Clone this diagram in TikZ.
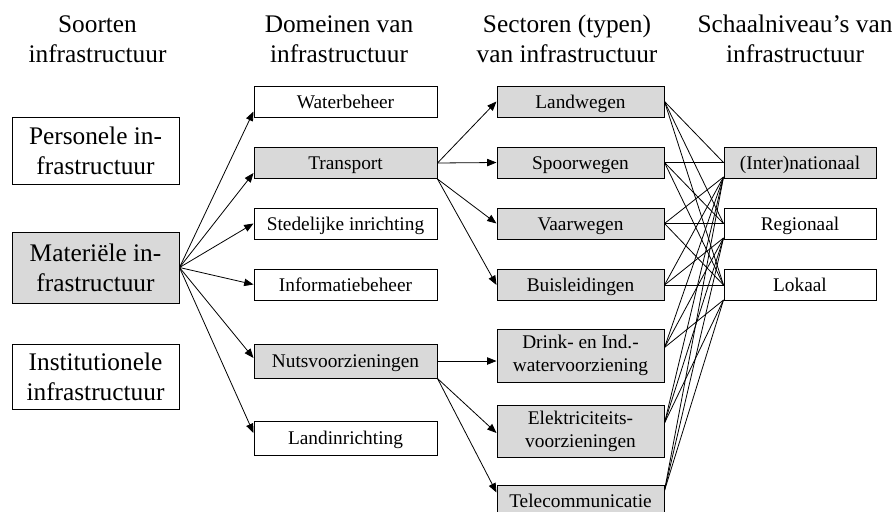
\documentclass[tikz,border=0pt]{standalone}
\usepackage{fontspec}
\setmainfont{Liberation Serif}
\usetikzlibrary{arrows.meta,calc}
\definecolor{boxgray}{RGB}{217,217,217}
\begin{document}
\begin{tikzpicture}[x=0.75pt,y=-0.75pt,
  box/.style={draw=black, line width=0.75pt, inner sep=0pt, align=center,
    font=\fontsize{14.5}{17.3}\selectfont},
  oneline/.style={text height=9.9pt, text depth=0pt},
  dombox/.style={box, minimum width=137.25pt, minimum height=23.25pt},
  secbox/.style={box, minimum width=125.25pt, minimum height=23.25pt},
  scalebox/.style={box, oneline, minimum width=114pt, minimum height=23.25pt},
  kindbox/.style={draw=black, line width=0.75pt, inner sep=0pt, align=center,
    minimum width=125.25pt, font=\fontsize{19}{22.5}\selectfont},
  hdr/.style={align=center, font=\fontsize{19}{22.7}\selectfont},
  graybox/.style={fill=boxgray},
  whitebox/.style={fill=white},
  conn/.style={line width=0.6pt},
  arr/.style={conn, -{Triangle[length=7pt,width=5.5pt]}}
]
\useasboundingbox (0,0) rectangle (896,511);

% column headings
\node[hdr] (h1) at (97.5,39) {Soorten\\infrastructuur};
\node[hdr] (h2) at (339,39)  {Domeinen van\\infrastructuur};
\node[hdr] (h3) at (567,39)  {Sectoren (typen)\\van infrastructuur};
\node[hdr] (h4) at (795,39)  {Schaalniveau’s van\\infrastructuur};

% kinds of infrastructure
\node[kindbox, whitebox, minimum height=50.25pt] (pers) at (95.5,150.8) {Personele in-\\frastructuur};
\node[kindbox, graybox,  minimum height=53.25pt] (mat)  at (95.5,267.5) {Materiële in-\\frastructuur};
\node[kindbox, whitebox, minimum height=48.75pt] (inst) at (95.5,376.5) {Institutionele\\infrastructuur};

% domains
\node[dombox, oneline, whitebox] (wb)  at (345.5,101.5) {Waterbeheer};
\node[dombox, oneline, graybox]  (tr)  at (345.5,163)   {Transport};
\node[dombox, oneline, whitebox] (st)  at (345.5,223.5) {Stedelijke inrichting};
\node[dombox, oneline, whitebox] (inf) at (345.5,284.5) {Informatiebeheer};
\node[dombox, oneline, graybox,  minimum height=25.5pt] (nuts) at (345.5,361) {Nutsvoorzieningen};
\node[dombox, oneline, whitebox, minimum height=25.5pt] (land) at (345.5,438) {Landinrichting};

% sectors
\node[secbox, oneline, graybox] (lw) at (580.5,101.5) {Landwegen};
\node[secbox, oneline, graybox] (sp) at (580.5,162.5) {Spoorwegen};
\node[secbox, oneline, graybox] (vw) at (580.5,223.5) {Vaarwegen};
\node[secbox, oneline, graybox] (bl) at (580.5,285)   {Buisleidingen};
\node[secbox, graybox, minimum height=39.75pt] (dr) at (580.5,355.5) {Drink- en Ind.-\\watervoorziening};
\node[secbox, graybox, minimum height=39pt]    (el) at (580.5,431)   {Elektriciteits-\\voorzieningen};
\node[secbox, oneline, graybox] (tc) at (580.5,500.5) {Telecommunicatie};

% scale levels
\node[scalebox, graybox]  (int) at (800,162.5) {(Inter)nationaal};
\node[scalebox, whitebox] (reg) at (800,223.5) {Regionaal};
\node[scalebox, whitebox] (lok) at (800,285)   {Lokaal};

% kinds -> domains
\draw[arr] (mat.east) -- ($(wb.south west)+(0,-6)$);
\draw[arr] (mat.east) -- ($(tr.south west)+(0,-6)$);
\draw[arr] (mat.east) -- (st.west);
\draw[arr] (mat.east) -- (inf.west);
\draw[arr] (mat.east) -- ($(nuts.west)+(0,-3)$);
\draw[arr] (mat.east) -- ($(land.west)+(0,-5)$);

% domains -> sectors
\draw[arr] (tr.east) -- (lw.west);
\draw[arr] (tr.east) -- (sp.west);
\draw[arr] (tr.south east) -- (vw.west);
\draw[arr] (tr.south east) -- (bl.west);
\draw[arr] (nuts.east) -- (nuts.east -| dr.west);
\draw[arr] (nuts.south east) -- ($(el.west)+(0,2)$);
\draw[arr] (nuts.south east) -- ($(tc.west)+(0,-8)$);

% sectors -> scale levels
\coordinate (drE) at ($(dr.east)+(0,-8)$);
\coordinate (elE) at ($(el.east)+(0,-8)$);
\coordinate (tcE) at ($(tc.east)+(0,-10)$);
\coordinate (intB) at ($(int.south west)+(0,-1.5)$);
\coordinate (regB) at ($(reg.south west)+(0,-1.5)$);
\coordinate (lokB) at ($(lok.south west)+(0,-1)$);

\foreach \s in {lw.east,sp.east}
  \draw[conn] (\s) -- (int.west);
\foreach \s in {vw.east,bl.east,drE,elE,tcE}
  \draw[conn] (\s) -- (intB);
\foreach \s in {lw.east,sp.east,vw.east}
  \draw[conn] (\s) -- (reg.west);
\foreach \s in {bl.east,drE,elE,tcE}
  \draw[conn] (\s) -- (regB);
\foreach \s in {lw.east,sp.east,vw.east,bl.east}
  \draw[conn] (\s) -- (lok.west);
\foreach \s in {drE,elE,tcE}
  \draw[conn] (\s) -- (lokB);
\end{tikzpicture}
\end{document}
